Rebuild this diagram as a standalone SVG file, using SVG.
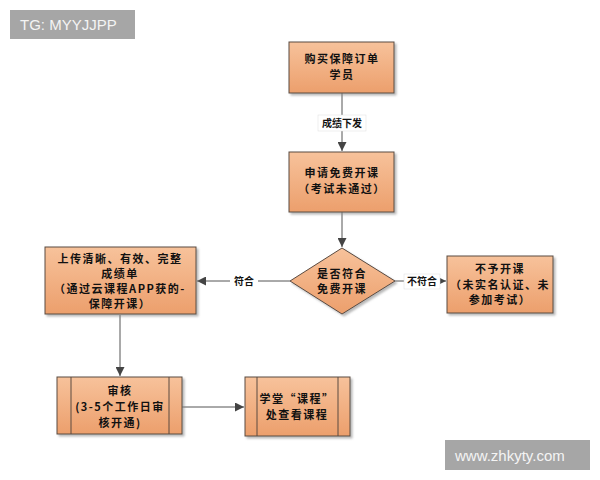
<svg xmlns="http://www.w3.org/2000/svg" width="600" height="480" viewBox="0 0 600 480">
<style>
.node{fill:url(#g);stroke:#5a4a40;stroke-width:1;filter:url(#sh)}
.t{font-family:"Noto Sans CJK SC","Liberation Sans",sans-serif;font-size:11px;font-weight:bold;fill:#111;text-anchor:middle;letter-spacing:1.5px}
.lb{font-family:"Noto Sans CJK SC","Liberation Sans",sans-serif;font-size:10px;font-weight:bold;fill:#111;text-anchor:middle}
.ln{stroke:#555;stroke-width:1;fill:none}
.wm{fill:#a6a6a6}
.wt{font-family:"Liberation Sans",sans-serif;font-size:15px;fill:#f4f4f4}
.in{stroke:#5a4a40;stroke-width:1}
</style>
<defs>
<linearGradient id="g" x1="0" y1="0" x2="0" y2="1">
<stop offset="0" stop-color="#f7c29b"/>
<stop offset="1" stop-color="#ec9f6c"/>
</linearGradient>
<filter id="sh" x="-10%" y="-10%" width="130%" height="130%">
<feDropShadow dx="2" dy="2" stdDeviation="1" flood-color="#888" flood-opacity="0.6"/>
</filter>
<marker id="ar" viewBox="0 0 10 10" refX="10" refY="5" markerWidth="9" markerHeight="9" orient="auto" markerUnits="userSpaceOnUse">
<path d="M0,0 L10,5 L0,10 Z" fill="#444"/>
</marker>
</defs>
<rect width="600" height="480" fill="#fff"/>

<g id="connectors">
<line class="ln" x1="342" y1="93" x2="342" y2="151" marker-end="url(#ar)"/>
<rect x="318" y="115" width="48" height="16" fill="#fff" stroke="#ddd" stroke-width="0.5"/>
<text class="lb" x="342" y="127">成绩下发</text>
<line class="ln" x1="342" y1="212" x2="342" y2="247" marker-end="url(#ar)"/>
<line class="ln" x1="290" y1="281" x2="197" y2="281" marker-end="url(#ar)"/>
<rect x="230" y="274" width="28" height="15" fill="#fff"/>
<text class="lb" x="244" y="285">符合</text>
<line class="ln" x1="395" y1="281" x2="446" y2="281" marker-end="url(#ar)"/>
<rect x="404" y="274" width="36" height="15" fill="#fff" stroke="#ddd" stroke-width="0.5"/>
<text class="lb" x="422" y="285">不符合</text>
<line class="ln" x1="120" y1="315" x2="120" y2="376" marker-end="url(#ar)"/>
<line class="ln" x1="182" y1="407" x2="244" y2="407" marker-end="url(#ar)"/>
</g>

<g id="n1">
<rect class="node" x="289" y="42" width="105" height="51"/>
<text class="t" x="342" y="63">购买保障订单</text>
<text class="t" x="342" y="79">学员</text>
</g>
<g id="n2">
<rect class="node" x="289" y="152" width="105" height="60"/>
<text class="t" x="342" y="177">申请免费开课</text>
<text class="t" x="342" y="193">（考试未通过）</text>
</g>
<g id="n3">
<polygon class="node" points="342,248 395,281 342,314 290,281"/>
<text class="t" x="342" y="278">是否符合</text>
<text class="t" x="342" y="293">免费开课</text>
</g>
<g id="n4">
<rect class="node" x="45" y="247" width="151" height="67"/>
<text class="t" x="120" y="263">上传清晰、有效、完整</text>
<text class="t" x="120" y="278">成绩单</text>
<text class="t" x="120" y="293">（通过云课程APP获的-</text>
<text class="t" x="120" y="308">保障开课）</text>
</g>
<g id="n5">
<rect class="node" x="447" y="256" width="106" height="57"/>
<text class="t" x="500" y="273">不予开课</text>
<text class="t" x="500" y="289">（未实名认证、未</text>
<text class="t" x="500" y="304">参加考试）</text>
</g>
<g id="n6">
<rect class="node" x="57" y="377" width="125" height="57"/>
<line class="in" x1="71" y1="377" x2="71" y2="434"/>
<line class="in" x1="169" y1="377" x2="169" y2="434"/>
<text class="t" x="120" y="395">审核</text>
<text class="t" x="120" y="411">(3-5个工作日审</text>
<text class="t" x="120" y="427">核开通)</text>
</g>
<g id="n7">
<rect class="node" x="245" y="377" width="105" height="59"/>
<line class="in" x1="257" y1="377" x2="257" y2="436"/>
<line class="in" x1="338" y1="377" x2="338" y2="436"/>
<text class="t" x="297" y="403">学堂“课程”</text>
<text class="t" x="297" y="419">处查看课程</text>
</g>

<g id="watermarks">
<rect class="wm" x="10" y="10" width="125" height="29"/>
<text class="wt" x="20" y="30">TG: MYYJJPP</text>
<rect class="wm" x="445" y="440" width="145" height="30"/>
<text class="wt" x="455" y="461">www.zhkyty.com</text>
</g>
</svg>
